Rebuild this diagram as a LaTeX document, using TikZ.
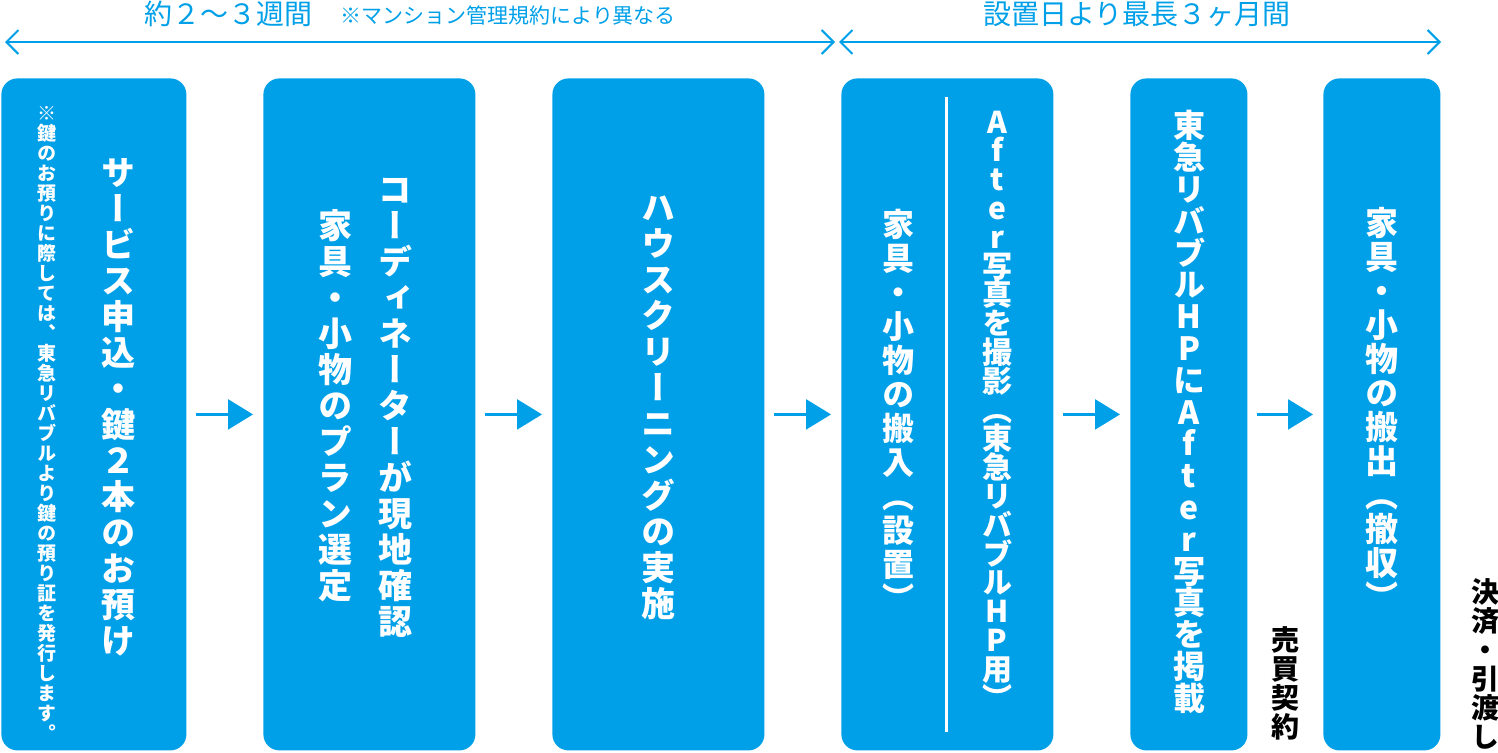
\documentclass[tikz,border=0pt]{standalone}
\usepackage{fontspec}
\newfontfamily\jph{Noto Sans CJK JP}
\newfontfamily\jpv{Noto Sans CJK JP}[RawFeature=+vert]
\usetikzlibrary{arrows.meta}
\definecolor{tblue}{RGB}{0,160,233}
% one glyph per line, for upright vertical text
\newcommand\vstack[2][18pt]{\vbox{\baselineskip=#1\lineskiplimit=-\maxdimen\lineskip=0pt\vstackloop#2\relax}}
\def\vstackloop#1{\ifx\relax#1\else\hbox to 1em{\hss#1\hss}\expandafter\vstackloop\fi}

\begin{document}
\begin{tikzpicture}[x=0.5pt, y=-0.5pt,
    blk/.style ={fill=tblue, rounded corners=8pt, minimum height=336pt, inner sep=0pt, anchor=north west},
    wtxt/.style ={text=white, inner sep=0pt, font=\jpv\bfseries\fontsize{17pt}{18pt}\selectfont},
    ktxt/.style ={text=black, inner sep=0pt, font=\jpv\bfseries\fontsize{14pt}{14.5pt}\selectfont},
    flow/.style ={draw=tblue, line width=1.2pt, shorten <=4.5pt, shorten >=5pt, -{Triangle[length=12.5pt,width=15pt]}},
    span/.style ={draw=tblue, line width=1pt, {Straight Barb[length=6pt,width=12pt]}-{Straight Barb[length=6pt,width=12pt]}}]
   \useasboundingbox (0,0) rectangle (1498,752);
   % boxes
   \node[blk, minimum width=92.5pt] (A) at (1,78) {};
   \node[blk, minimum width=106pt] (B) at (263,78) {};
   \node[blk, minimum width=106pt] (C) at (552,78) {};
   \node[blk, minimum width=106pt] (D) at (841,78) {};
   \node[blk, minimum width=58.5pt] (E) at (1130,78) {};
   \node[blk, minimum width=58.5pt] (F) at (1323,78) {};
   \draw[flow] (A) to (B);
   \draw[flow] (B) to (C);
   \draw[flow] (C) to (D);
   \draw[flow] (D) to (E);
   \draw[flow] (E) to (F);
   % texts in boxes
   \node[wtxt] (A1) at (118,407) {\vstack{サービス申込・鍵２本のお預け}};
   \node[wtxt, font=\jpv\bfseries\fontsize{9.5pt}{10pt}\selectfont] (A2) at (47,423)
      {\vstack[10pt]{※鍵のお預りに際しては、東急リバブルより鍵の預り証を発行します。}};
   \node[wtxt] (B1) at (395,408) {\vstack{コーディネーターが現地確認}};
   \node[wtxt] (B2) at (335,406) {\vstack{家具・小物のプラン選定}};
   \node[wtxt] (C1) at (658,408) {\vstack{ハウスクリーニングの実施}};
   \node[wtxt, font=\jpv\bfseries\fontsize{16pt}{17pt}\selectfont] (D1) at (898,410) {\vstack[17pt]{家具・小物の搬入（設置）}};
   \node[wtxt, font=\jpv\bfseries\fontsize{15pt}{14.4pt}\selectfont] (D2) at (997,410) {\vstack[14.4pt]{After写真を撮影（東急リバブルHP用）}};
   \draw[white, line width=1.5pt] (946,97) -- (946,732);
   \node[wtxt, font=\jpv\bfseries\fontsize{16pt}{16pt}\selectfont] (E1) at (1189,412) {\vstack[15.9pt]{東急リバブルHPにAfter写真を掲載}};
   \node[wtxt, font=\jpv\bfseries\fontsize{16.5pt}{17pt}\selectfont] (F1) at (1382,408) {\vstack[17pt]{家具・小物の搬出（撤収）}};
   % texts beside
   \node[ktxt] (K1) at (1285,683) {\vstack[14.5pt]{売買契約}};
   \node[ktxt] (K2) at (1485,664) {\vstack[14.5pt]{決済・引渡し}};
   % periods
   \coordinate (L0) at (5,42);
   \coordinate (L1) at (835,42);
   \coordinate (R0) at (839,42);
   \coordinate (R1) at (1441,42);
   \draw[span] (L0) -- (L1);
   \draw[span] (R0) -- (R1);
   \node[text=tblue, font=\jph\fontsize{14pt}{14pt}\selectfont, inner sep=0pt] (P1) at (228,14) {約２〜３週間};
   \node[text=tblue, font=\jph\fontsize{10.5pt}{10.5pt}\selectfont, inner sep=0pt, anchor=west] (P2) at (340,15) {※マンション管理規約により異なる};
   \node[text=tblue, font=\jph\fontsize{14pt}{14pt}\selectfont, inner sep=0pt] (P3) at (1137,14) {設置日より最長３ヶ月間};
 \end{tikzpicture}
\end{document}
